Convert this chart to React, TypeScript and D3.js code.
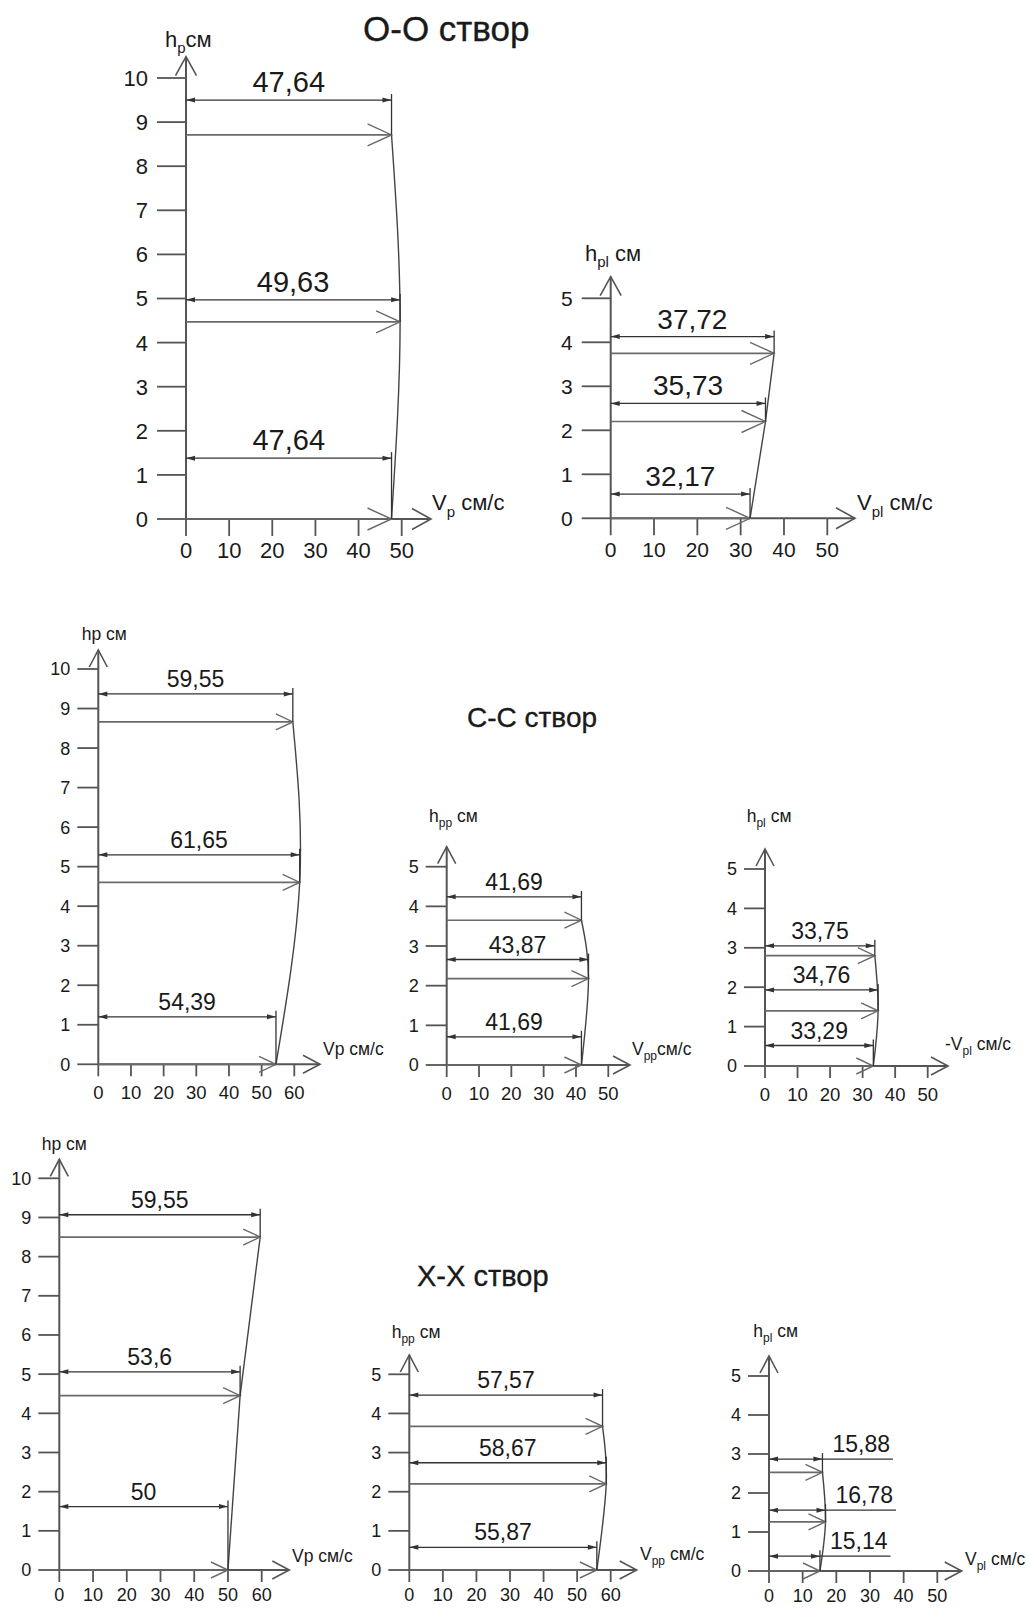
import React from 'react';
import * as d3 from 'd3';

// tick values
const hTicks10 = [0, 1, 2, 3, 4, 5, 6, 7, 8, 9, 10];
const hTicks5 = [0, 1, 2, 3, 4, 5];
const vTicks50 = [0, 10, 20, 30, 40, 50];
const vTicks60 = [0, 10, 20, 30, 40, 50, 60];

// О-О створ, main channel
const ooMainV = [47.64, 49.63, 47.64];
const ooMainH = [0, 4.47, 8.71];
const ooMainDimH = [1.38, 4.97, 9.5];
// О-О створ, side
const ooSideV = [32.17, 35.73, 37.72];
const ooSideH = [0, 2.2, 3.75];
const ooSideDimH = [0.55, 2.61, 4.13];

// С-С створ
const ccMainV = [54.39, 61.65, 59.55];
const ccMainH = [0, 4.6, 8.66];
const ccMainDimH = [1.2, 5.3, 9.37];
const ccPpV = [41.69, 43.87, 41.69];
const ccPpH = [0, 2.18, 3.65];
const ccPpDimH = [0.71, 2.66, 4.24];
const ccPlV = [33.29, 34.76, 33.75];
const ccPlH = [0, 1.4, 2.8];
const ccPlDimH = [0.52, 1.93, 3.05];

// Х-Х створ
const xxMainV = [50, 53.6, 59.55];
const xxMainH = [0, 4.45, 8.5];
const xxMainDimH = [1.62, 5.06, 9.07];
const xxPpV = [55.87, 58.67, 57.57];
const xxPpH = [0, 2.2, 3.67];
const xxPpDimH = [0.58, 2.74, 4.47];
const xxPlV = [15.14, 16.78, 15.88];
const xxPlH = [0, 1.26, 2.53];
const xxPlDimH = [0.38, 1.56, 2.87];

const fmt = (v: number) => String(v).replace('.', ',');

const big = {
  tickFont: 22, xTickFont: 22, valueFont: 29, axisFont: 22, subFont: 15,
  yTickLen: 29, xTickLen: 17, headLen: 24, headHalf: 11,
  axHeadLen: 19, axHeadHalf: 10.5, xLabelDy: 39, labelGap: 8, tickGap: 9,
};
const small = {
  tickFont: 18, xTickFont: 18.5, valueFont: 23, axisFont: 17.5, subFont: 12,
  yTickLen: 21, xTickLen: 12, headLen: 17, headHalf: 8,
  axHeadLen: 17, axHeadHalf: 9, xLabelDy: 35, labelGap: 7, tickGap: 7,
};
const smallBottom = { ...small, xLabelDy: 31, xTickFont: 18 };

const charts = [
  { v: ooMainV, h: ooMainH, dim: ooMainDimH, hT: hTicks10, vT: vTicks50, st: big, curve: d3.curveNatural,
    xr: [186, 401.7], yr: [519, 78], tipY: 56.7, tipX: 431,
    hLab: { x: 165, y: 46.7, base: 'h', sub: 'p', rest: 'см' },
    vLab: { x: 432, y: 510, base: 'V', sub: 'p', rest: ' см/с' } },
  { v: ooSideV, h: ooSideH, dim: ooSideDimH, hT: hTicks5, vT: vTicks50, st: { ...big, tickFont: 21, xTickFont: 21, valueFont: 28 }, curve: d3.curveLinear,
    xr: [610.7, 827.3], yr: [518.3, 298.3], tipY: 276.7, tipX: 855,
    hLab: { x: 585, y: 260.7, base: 'h', sub: 'pl', rest: ' см' },
    vLab: { x: 857, y: 510, base: 'V', sub: 'pl', rest: ' см/с' } },
  { v: ccMainV, h: ccMainH, dim: ccMainDimH, hT: hTicks10, vT: vTicks60, st: small, curve: d3.curveNatural,
    xr: [98.3, 294.3], yr: [1064.3, 669], tipY: 650, tipX: 320,
    hLab: { x: 81.7, y: 640, base: 'hp см', sub: '', rest: '' },
    vLab: { x: 323, y: 1055, base: 'Vp см/с', sub: '', rest: '' } },
  { v: ccPpV, h: ccPpH, dim: ccPpDimH, hT: hTicks5, vT: vTicks50, st: small, curve: d3.curveNatural,
    xr: [446.7, 608.3], yr: [1065, 866.7], tipY: 846.7, tipX: 630,
    hLab: { x: 429, y: 821.7, base: 'h', sub: 'pp', rest: ' см' },
    vLab: { x: 632, y: 1055, base: 'V', sub: 'pp', rest: 'см/с' } },
  { v: ccPlV, h: ccPlH, dim: ccPlDimH, hT: hTicks5, vT: vTicks50, st: small, curve: d3.curveNatural,
    xr: [765, 927.7], yr: [1066, 869], tipY: 849, tipX: 948,
    hLab: { x: 746.7, y: 821.7, base: 'h', sub: 'pl', rest: ' см' },
    vLab: { x: 945, y: 1050, base: '-V', sub: 'pl', rest: ' см/с' } },
  { v: xxMainV, h: xxMainH, dim: xxMainDimH, hT: hTicks10, vT: vTicks60, st: smallBottom, curve: d3.curveLinear,
    xr: [59.3, 261.7], yr: [1570, 1178.3], tipY: 1159.3, tipX: 289.3,
    hLab: { x: 41.7, y: 1150, base: 'hp см', sub: '', rest: '' },
    vLab: { x: 292, y: 1561.7, base: 'Vp см/с', sub: '', rest: '' } },
  { v: xxPpV, h: xxPpH, dim: xxPpDimH, hT: hTicks5, vT: vTicks60, st: smallBottom, curve: d3.curveNatural,
    xr: [409.3, 610.7], yr: [1570, 1374.3], tipY: 1355, tipX: 636.7,
    hLab: { x: 391.7, y: 1338, base: 'h', sub: 'pp', rest: ' см' },
    vLab: { x: 640, y: 1560, base: 'V', sub: 'pp', rest: ' см/с' } },
  { v: xxPlV, h: xxPlH, dim: xxPlDimH, hT: hTicks5, vT: vTicks50, st: smallBottom, curve: d3.curveNatural, labelRight: true,
    xr: [769, 937.3], yr: [1571, 1376], tipY: 1356, tipX: 961.7,
    hLab: { x: 753.3, y: 1336.7, base: 'h', sub: 'pl', rest: ' см' },
    vLab: { x: 965, y: 1565, base: 'V', sub: 'pl', rest: ' см/с' } },
];

const titles = [
  { text: 'О-О створ', x: 363, y: 40.7, size: 35 },
  { text: 'С-С створ', x: 467, y: 726.7, size: 28 },
  { text: 'Х-Х створ', x: 417, y: 1286, size: 29 },
];

const AXIS = '#555';
const ARROW = '#6a6a6a';
const DIM = '#333';
const TXT = '#1a1a1a';

function AxisLabel({ lab, st }: any) {
  const shift = st.subFont * 0.45;
  return (
    <text x={lab.x} y={lab.y} fontSize={st.axisFont} fill={TXT}>
      {lab.base}
      {lab.sub && <tspan dy={shift} fontSize={st.subFont}>{lab.sub}</tspan>}
      {lab.rest && <tspan dy={lab.sub ? -shift : 0}>{lab.rest}</tspan>}
    </text>
  );
}

function Profile({ c }: any) {
  const st = c.st;
  const x = d3.scaleLinear().domain([0, c.vT[c.vT.length - 1]]).range(c.xr);
  const y = d3.scaleLinear().domain([0, c.hT[c.hT.length - 1]]).range(c.yr);
  const ox = x(0);
  const oy = y(0);
  const pts = c.v.map((v: number, i: number) => ({ v, h: c.h[i], dim: c.dim[i] }));
  const line = d3.line<any>().x(d => x(d.v)).y(d => y(d.h)).curve(c.curve);
  const dimHead = (xx: number, yy: number, dir: number) =>
    `M${xx},${yy}L${xx - dir * 9},${yy - 2.5}L${xx - dir * 9},${yy + 2.5}Z`;

  return (
    <g>
      {c.hT.map((t: number) => (
        <g key={'h' + t}>
          <line x1={ox - st.yTickLen} x2={ox} y1={y(t)} y2={y(t)} stroke={AXIS} strokeWidth={1.8} />
          <text x={ox - st.yTickLen - st.tickGap} y={y(t)} dy="0.36em" textAnchor="end" fontSize={st.tickFont} fill={TXT}>{t}</text>
        </g>
      ))}
      {c.vT.map((t: number) => (
        <g key={'v' + t}>
          <line x1={x(t)} x2={x(t)} y1={oy} y2={oy + st.xTickLen} stroke={AXIS} strokeWidth={1.8} />
          <text x={x(t)} y={oy + st.xLabelDy} textAnchor="middle" fontSize={st.xTickFont} fill={TXT}>{t}</text>
        </g>
      ))}
      <line x1={ox} x2={ox} y1={oy} y2={c.tipY} stroke={AXIS} strokeWidth={2} />
      <path d={`M${ox - st.axHeadHalf},${c.tipY + st.axHeadLen}L${ox},${c.tipY}L${ox + st.axHeadHalf},${c.tipY + st.axHeadLen}`} fill="none" stroke={AXIS} strokeWidth={1.6} />
      <line x1={ox} x2={c.tipX} y1={oy} y2={oy} stroke={AXIS} strokeWidth={2} />
      <path d={`M${c.tipX - st.axHeadLen},${oy - st.axHeadHalf}L${c.tipX},${oy}L${c.tipX - st.axHeadLen},${oy + st.axHeadHalf}`} fill="none" stroke={AXIS} strokeWidth={1.6} />

      <path d={line(pts) || ''} fill="none" stroke="#444" strokeWidth={1.4} />

      {pts.map((p: any, i: number) => {
        const xe = x(p.v);
        const ya = y(p.h);
        const yd = y(p.dim);
        const label = fmt(p.v);
        const lw = label.length * 0.5 * st.valueFont;
        const lx = c.labelRight ? xe + 10 : (ox + xe) / 2;
        const dimEnd = c.labelRight ? lx + lw + 3 : xe;
        return (
          <g key={i}>
            <line x1={ox} x2={xe} y1={ya} y2={ya} stroke={ARROW} strokeWidth={1.7} />
            <path d={`M${xe - st.headLen},${ya - st.headHalf}L${xe},${ya}L${xe - st.headLen},${ya + st.headHalf}`} fill="none" stroke={ARROW} strokeWidth={1.4} />
            <line x1={ox} x2={dimEnd} y1={yd} y2={yd} stroke={DIM} strokeWidth={1.3} />
            <path d={dimHead(ox, yd, -1)} fill={DIM} />
            <path d={dimHead(xe, yd, 1)} fill={DIM} />
            <line x1={xe} x2={xe} y1={yd - 6} y2={ya} stroke={DIM} strokeWidth={1.3} />
            <text x={lx} y={yd - st.labelGap} textAnchor={c.labelRight ? 'start' : 'middle'} fontSize={st.valueFont} fill={TXT}>{label}</text>
          </g>
        );
      })}
      <AxisLabel lab={c.hLab} st={st} />
      <AxisLabel lab={c.vLab} st={st} />
    </g>
  );
}

export default function App() {
  return (
    <div style={{ position: 'absolute', left: 0, top: 0 }}>
      <svg width={1027} height={1608} style={{ display: 'block', background: '#fff' }} fontFamily="'Liberation Sans', Arial, sans-serif">
        <rect width={1027} height={1608} fill="#fff" />
        <g stroke={TXT} strokeWidth={0.35}>
          {titles.map(t => (
            <text key={t.text} x={t.x} y={t.y} fontSize={t.size} fill={TXT}>{t.text}</text>
          ))}
        </g>
        <g style={{ stroke: 'none' }}>
          {charts.map((c, i) => <Profile key={i} c={c} />)}
        </g>
      </svg>
    </div>
  );
}
